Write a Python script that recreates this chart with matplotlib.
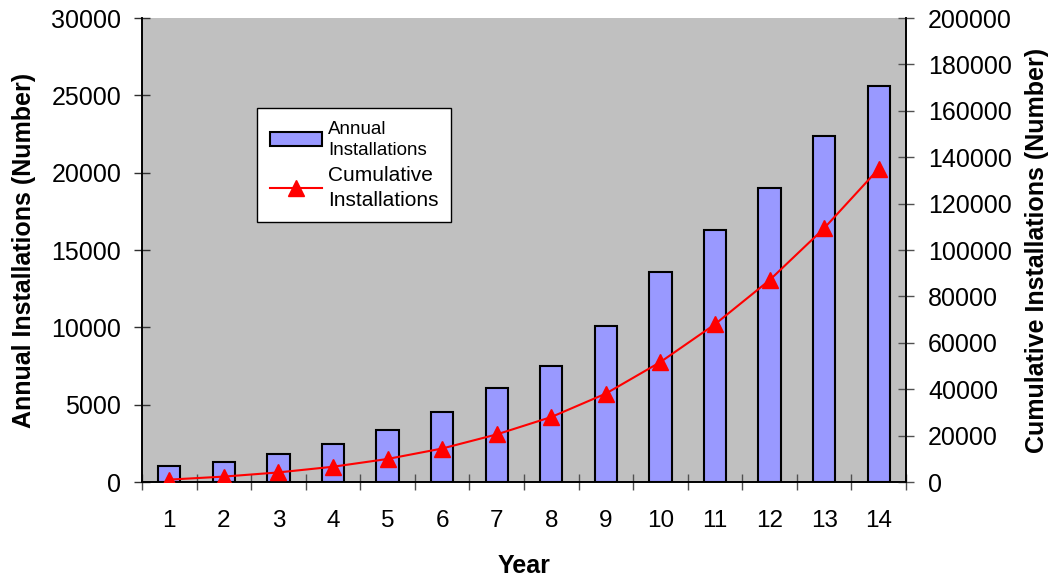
import numpy as np
import matplotlib.pyplot as plt

plt.rcParams['font.family'] = ['Liberation Sans', 'DejaVu Sans']

#--------------------------------------------------------------------------------------------------
# Data
years = list(range(1, 15))
annual = [1030, 1300, 1800, 2450, 3350, 4500, 6080, 7500, 10100, 13600, 16300, 19000, 22370, 25620]
cumulative = [1030, 2330, 4130, 6580, 9930, 14430, 20510, 28010, 38110, 51710, 68010, 87010, 109380, 135000]

#--------------------------------------------------------------------------------------------------
# Plot
fig = plt.figure(figsize=(10.49, 5.77), dpi=100)
ax1 = fig.add_axes([142/1049, 1 - 482/577, 764/1049, 464/577])
ax2 = ax1.twinx()

ax1.set_facecolor('#C0C0C0')
bars = ax1.bar(years, annual, width=0.41, color='#9999FF', edgecolor='black', linewidth=1.5,
               label='Annual\nInstallations', zorder=2)
line, = ax2.plot(years, cumulative, '-', color='red', linewidth=1.5, marker='^', markersize=11,
                 label='Cumulative\nInstallations', zorder=3)

ax1.set_xlim(0.5, 14.5)
ax1.set_ylim(0, 30000)
ax2.set_ylim(0, 200000)
ax1.set_yticks(np.arange(0, 30001, 5000))
ax2.set_yticks(np.arange(0, 200001, 20000))
ax1.set_xticks(years)
ax1.set_xticks(np.arange(0.5, 15, 1), minor=True)

ax1.tick_params(axis='x', which='major', length=0, labelsize=17.5, pad=20)
ax1.tick_params(axis='x', which='minor', direction='inout', length=12, color='#505050', width=1)
ax1.tick_params(axis='y', direction='inout', length=12, width=1, labelsize=18, pad=9, color='#303030')
ax2.tick_params(axis='y', direction='inout', length=12, width=1, labelsize=18, pad=10, color='#505050')

for ax in (ax1, ax2):
    ax.spines['top'].set_visible(False)
    ax.spines['left'].set_linewidth(1.2)
    ax.spines['right'].set_linewidth(1.2)
    ax.spines['bottom'].set_linewidth(1.2)

ax1.set_ylabel('Annual Installations (Number)', fontsize=18, fontweight='bold', labelpad=11)
ax2.set_ylabel('Cumulative Installations (Number)', fontsize=18, fontweight='bold', labelpad=9)
ax1.set_xlabel('Year', fontsize=18, fontweight='bold', labelpad=16)

leg = ax1.legend([bars, line], ['Annual\nInstallations', 'Cumulative\nInstallations'],
                 loc='upper left', bbox_to_anchor=((257 - 142)/764, 1 - 90/464), borderaxespad=0,
                 frameon=True, fancybox=False, edgecolor='black', framealpha=1, fontsize=15,
                 handlelength=2.5, handletextpad=0.3, borderpad=0.6, labelspacing=0.35)
leg.get_frame().set_linewidth(1)
leg.get_texts()[0].set_fontsize(13.5)
for txt in leg.get_texts():
    txt.set_linespacing(1.35)
ax2.set_zorder(ax1.get_zorder() + 1)
ax2.patch.set_visible(False)
leg.remove()
ax2.add_artist(leg)

fig.savefig('out.png', dpi=100)
